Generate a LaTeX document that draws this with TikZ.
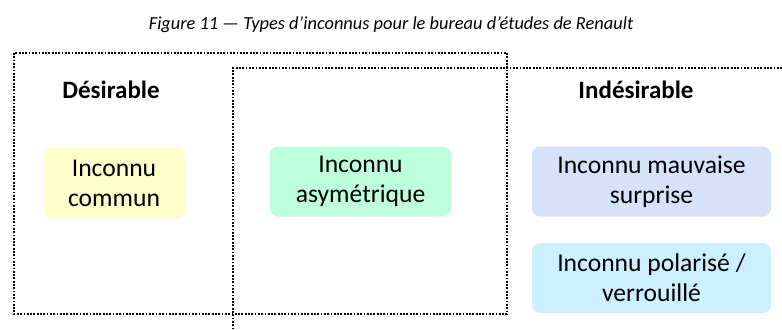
\documentclass[tikz,border=0pt]{standalone}
\usepackage{fontspec}
\setmainfont{Carlito}
\definecolor{jaune}{HTML}{FFFFCC}
\definecolor{vert}{HTML}{BDFFDA}
\definecolor{bleu}{HTML}{D6E2FA}
\definecolor{ciel}{HTML}{CCF0FF}
\tikzset{
  zone/.style={line width=0.8pt,dash pattern=on 0.9pt off 0.75pt},
  inconnu/.style={rounded corners=4pt,align=center,inner sep=0pt,
    font=\fontsize{12.8}{15}\selectfont,minimum height=35pt},
  titre/.style={font=\fontsize{12.5}{15}\selectfont\bfseries}
}
\begin{document}
\begin{tikzpicture}[x=0.5pt,y=-0.5pt]
\useasboundingbox (0,0) rectangle (782,329);
\node[font=\fontsize{9.2}{11}\selectfont\itshape] (fig) at (391,25) {Figure 11 — Types d’inconnus pour le bureau d’études de Renault};
% zones
\draw[zone] (14,53) rectangle (507,314);
\draw[zone] (782,68) -- (233,68) -- (233,329);
\node[titre] (des) at (111,90) {Désirable};
\node[titre] (indes) at (636,90) {Indésirable};
% types d'inconnus
\node[inconnu,fill=jaune,minimum width=71pt] (commun) at (114,183) {Inconnu\\commun};
\node[inconnu,fill=vert,minimum width=90.5pt] (asym) at (360.5,181.5) {Inconnu\\asymétrique};
\node[inconnu,fill=bleu,minimum width=119.5pt] (surprise) at (651.5,181.5) {Inconnu mauvaise\\surprise};
\node[inconnu,fill=ciel,minimum width=119.5pt] (polar) at (651.5,278) {Inconnu polarisé /\\verrouillé};
\end{tikzpicture}
\end{document}
